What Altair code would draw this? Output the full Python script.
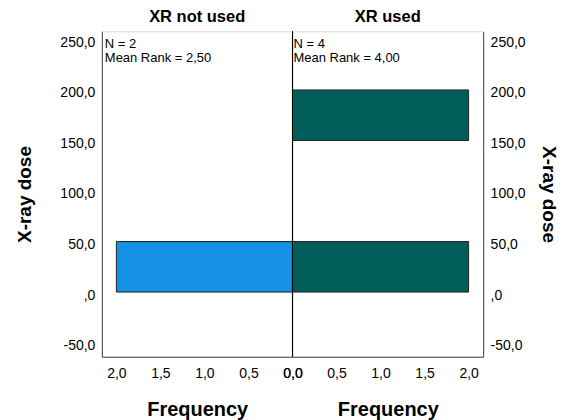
import altair as alt
import pandas as pd

# ---- data ----
groups = ["XR not used", "XR used"]
left_bin_start = [0]
left_bin_end = [50]
left_freq = [2]
right_bin_start = [0, 150]
right_bin_end = [50, 200]
right_freq = [2, 2]
n_values = [2, 4]
mean_ranks = ["2,50", "4,00"]
x_ticks = [0, 0.5, 1, 1.5, 2]
y_ticks = [-50, 0, 50, 100, 150, 200, 250]
colors = ["#1490E4", "#005D5A"]

FONT = "Liberation Sans"

x_label_expr = "replace(format(datum.value, '.1f'), '.', ',')"
y_label_expr = ("datum.value == 0 ? ',0' : (datum.value < 0 ? '-' : '') + "
                "replace(format(abs(datum.value), '.1f'), '.', ',')")


def panel(starts, ends, freqs, color, left, title, n, mr):
    df = pd.DataFrame({"start": starts, "end": ends, "freq": freqs,
                       "zero": [0] * len(freqs)})
    xscale = alt.Scale(domain=[0, 2.165], reverse=left, nice=False, zero=False)
    yscale = alt.Scale(domain=[-64, 258], nice=False, zero=False)
    xaxis = alt.Axis(title="Frequency", values=x_ticks, labelExpr=x_label_expr,
                     ticks=False, grid=False, domainColor="#444", domainWidth=1,
                     labelFontSize=14, labelPadding=10, labelColor="#000",
                     labelFont=FONT, titleFont=FONT, titleFontSize=20,
                     titleFontWeight="bold", titleColor="#000", titlePadding=19,
                     labelFlush=False)
    yaxis = alt.Axis(orient="left" if left else "right", title="X-ray dose",
                     values=y_ticks, labelExpr=y_label_expr, ticks=False,
                     grid=False, domainColor="#444", domainWidth=1,
                     labelFontSize=14, labelPadding=7, labelOffset=3,
                     labelColor="#000",
                     labelFont=FONT, titleFont=FONT, titleFontSize=19,
                     titleFontWeight="bold", titleColor="#000",
                     minExtent=40, maxExtent=40,
                     titlePadding=27.5 if left else 15,
                     labelFlush=False)
    bars = alt.Chart(df).mark_bar(color=color, stroke="#222", strokeWidth=1).encode(
        x=alt.X("freq:Q", scale=xscale, axis=xaxis),
        x2="zero:Q",
        y=alt.Y("start:Q", scale=yscale, axis=yaxis),
        y2="end:Q",
    )
    ann = alt.Chart(pd.DataFrame({"t": [f"N = {n}\nMean Rank = {mr}"]})).mark_text(
        align="left", baseline="alphabetic", fontSize=13, font=FONT,
        lineBreak="\n", lineHeight=14, color="#000"
    ).encode(x=alt.value(3 if left else 1), y=alt.value(16.5), text="t:N")
    layers = [bars, ann]
    if not left:
        rule = alt.Chart(df).mark_rule(color="#000", strokeWidth=1).encode(
            x=alt.datum(0))
        layers.append(rule)
    return alt.layer(*layers).properties(
        width=191, height=326,
        title=alt.TitleParams(title, fontSize=16.5, fontWeight="bold", font=FONT,
                              anchor="middle", offset=5.5, color="#000"),
    )


left_panel = panel(left_bin_start, left_bin_end, left_freq, colors[0], True,
                   groups[0], n_values[0], mean_ranks[0])
right_panel = panel(right_bin_start, right_bin_end, right_freq, colors[1], False,
                    groups[1], n_values[1], mean_ranks[1])

chart = alt.hconcat(left_panel, right_panel, spacing=0, bounds="flush").properties(
    padding={"left": 7, "top": 0, "right": 1, "bottom": 0}
).configure_view(strokeWidth=0, stroke="transparent").configure(background="white")

chart.save("out.html", embed_options={"renderer": "svg", "actions": False})
